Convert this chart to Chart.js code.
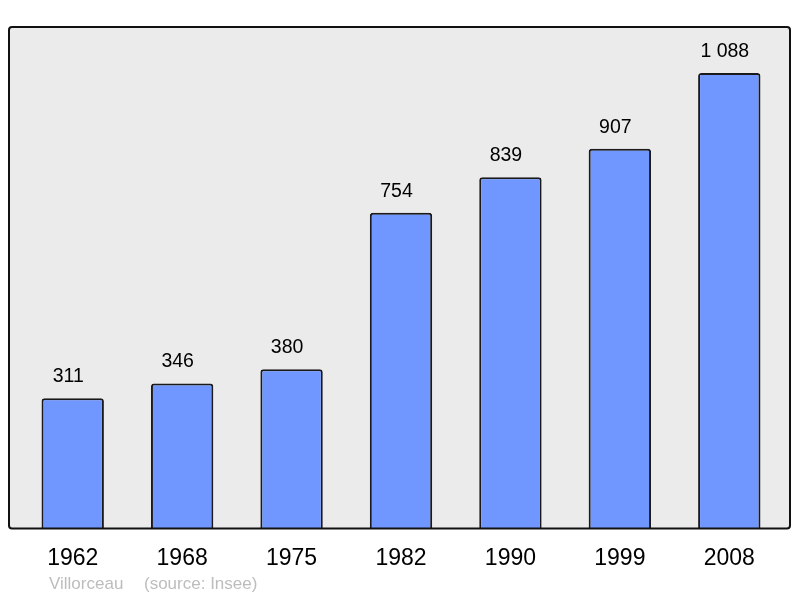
<!DOCTYPE html>
<html>
<head>
<meta charset="utf-8">
<script src="https://cdn.jsdelivr.net/npm/chart.js@4.4.0/dist/chart.umd.min.js"></script>
<style>
    body { margin: 0; background: #fff; }
    #wrap { width: 800px; height: 598px; position: relative; }
</style>
</head>
<body>
<div id="wrap"><canvas id="pop-chart"></canvas></div>
<script>
    // data
    const years = ['1962', '1968', '1975', '1982', '1990', '1999', '2008'];
    const population = [311, 346, 380, 754, 839, 907, 1088];
    const commune = 'Villorceau';
    const source = '(source: Insee)';

    function fmt(n) {
        return String(n).replace(/\B(?=(\d{3})+(?!\d))/g, ' ');
    }

    // start: frame + labels plugin
    const framePlugin = {
        id: 'frame',
        beforeDraw(chart) {
            const { ctx, chartArea: a } = chart;
            const x0 = a.left - 9, x1 = a.right + 6, y0 = a.top, y1 = a.bottom;
            ctx.save();
            ctx.beginPath();
            ctx.roundRect(x0, y0, x1 - x0, y1 - y0, 3);
            ctx.fillStyle = '#ebebeb';
            ctx.fill();
            ctx.restore();
        },
        afterDatasetsDraw(chart) {
            const { ctx, chartArea: a } = chart;
            const x0 = a.left - 9, x1 = a.right + 6, y0 = a.top, y1 = a.bottom;
            ctx.save();
            ctx.beginPath();
            ctx.roundRect(x0, y0, x1 - x0, y1 - y0, 3);
            ctx.lineWidth = 2;
            ctx.strokeStyle = '#111';
            ctx.stroke();

            // value labels, sit a bit left of the bar centre like the original
            ctx.fillStyle = '#000';
            ctx.font = '19.5px "Liberation Sans", Arial, sans-serif';
            ctx.textAlign = 'center';
            ctx.textBaseline = 'middle';
            chart.getDatasetMeta(0).data.forEach((bar, i) => {
                ctx.fillText(fmt(population[i]), bar.x - 4.5, bar.y - 21.5);
            });

            ctx.fillStyle = '#bdbdbd';
            ctx.font = '17px "Liberation Sans", Arial, sans-serif';
            ctx.textAlign = 'left';
            ctx.fillText(commune, 49, 584);
            ctx.fillText(source, 144, 584);
            ctx.restore();
        }
    };
    // end: frame + labels plugin

    const popChart = new Chart(document.getElementById('pop-chart'), {
        type: 'bar',
        data: {
            labels: years,
            datasets: [{
                data: population,
                backgroundColor: '#7097ff',
                borderColor: '#1a1a1a',
                borderWidth: 2,
                borderSkipped: 'bottom',
                borderRadius: 3,
                barPercentage: 0.57,
                categoryPercentage: 1
            }]
        },
        options: {
            responsive: true,
            maintainAspectRatio: false,
            animation: false,
            layout: { padding: { top: 27, left: 18, right: 16, bottom: 18 } },
            plugins: {
                legend: { display: false },
                tooltip: { enabled: false }
            },
            scales: {
                y: { display: false, min: 0, max: 1198 },
                x: {
                    grid: { display: false },
                    border: { display: false },
                    ticks: {
                        color: '#000',
                        padding: 8,
                        font: { family: '"Liberation Sans", Arial, sans-serif', size: 23 }
                    }
                }
            }
        },
        plugins: [framePlugin]
    })
</script>
</body>
</html>
